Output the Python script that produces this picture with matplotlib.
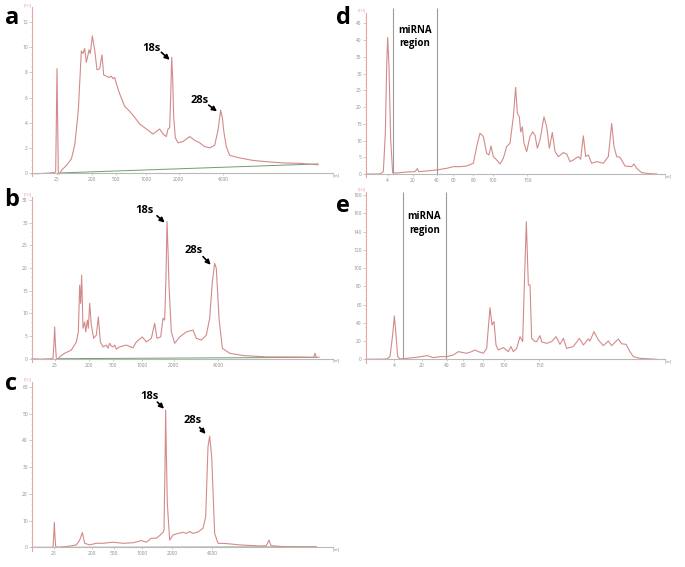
"""
Bioanalyzer electropherograms: total RNA (a-c) and small RNA (d-e) traces.
X positions are migration positions (arbitrary units read off the original
trace), Y values are fluorescence in [FU].
"""

import matplotlib
matplotlib.use("Agg")
import matplotlib.pyplot as plt
from matplotlib.ticker import MultipleLocator

plt.rcParams["font.family"] = ["Open Sans", "DejaVu Sans"]

TRACE = "#d48a8a"
YAXIS = "#e3a7a7"
XAXIS = "#b9b9b9"
BASE = "#6f9f6f"
TICKTXT = "#8c8c8c"

# ---------------- panel a ----------------
a_pos = [97, 120, 150, 165, 168, 170, 172, 174, 176, 178, 182, 185, 200, 215, 225,
         230, 236, 240, 245, 250, 255, 260, 265, 268, 272, 278, 285, 292, 300, 307,
         312, 320, 328, 335, 340, 345, 350, 360, 375, 390, 400, 420, 440, 460, 470,
         480, 490, 500, 505, 510, 513, 516, 519, 522, 527, 535, 550, 565, 570, 585,
         600, 615, 630, 645, 655, 663, 668, 673, 680, 690, 720, 760, 800, 850, 900, 955]
a_fu = [-0.05, -0.05, 0.0, 0.05, 0.1, 4.0, 8.3, 4.0, 0.0, -0.1, 0.0, 0.2, 0.6, 1.1, 2.2,
        3.4, 5.0, 7.1, 9.7, 9.5, 9.9, 8.8, 9.4, 9.8, 9.5, 10.9, 9.8, 8.2, 8.3, 9.4,
        7.8, 7.7, 7.6, 7.7, 7.5, 7.6, 7.1, 6.3, 5.3, 4.9, 4.6, 3.9, 3.5, 3.1, 3.3,
        3.5, 3.1, 2.9, 3.5, 3.6, 6.0, 9.2, 7.5, 4.5, 2.8, 2.4, 2.5, 2.8, 2.9, 2.6,
        2.4, 2.1, 2.0, 2.2, 3.4, 5.0, 4.4, 3.2, 2.1, 1.4, 1.2, 1.0, 0.9, 0.8, 0.77, 0.65]
a_base_pos = [176, 955]
a_base_fu = [0.0, 0.72]
a_ticks = [172, 278, 348, 438, 537, 670]

# ---------------- panel b ----------------
b_pos = [97, 120, 155, 160, 163, 165, 167, 170, 175, 180, 195, 215, 230, 236, 240,
         243, 246, 250, 255, 258, 263, 266, 270, 275, 282, 290, 296, 302, 310, 320,
         325, 330, 335, 340, 345, 350, 360, 380, 400, 410, 428, 440, 455, 465, 472,
         483, 490, 495, 499, 502, 505, 508, 515, 525, 540, 560, 580, 590, 605, 620,
         630, 638, 645, 650, 658, 668, 690, 730, 800, 900, 942, 946, 950, 958]
b_fu = [0.0, -0.1, 0.0, 0.1, 3.5, 7.0, 3.5, 0.0, -0.1, 0.4, 1.2, 1.9, 3.7, 5.9, 16.2,
        12.2, 18.4, 6.7, 8.1, 5.9, 8.5, 6.7, 12.2, 7.4, 4.5, 5.2, 9.2, 3.7, 2.6, 3.0,
        2.3, 3.4, 2.8, 2.6, 3.0, 2.1, 2.6, 3.0, 2.4, 3.7, 4.8, 3.7, 4.5, 7.8, 4.5,
        4.8, 8.9, 8.5, 18.0, 30.2, 24.0, 16.2, 5.9, 3.4, 4.8, 5.9, 6.3, 4.5, 4.1, 5.2,
        8.9, 16.9, 21.0, 19.9, 8.9, 2.3, 1.2, 0.7, 0.4, 0.37, 0.3, 1.2, 0.3, 0.35]
b_base_pos = [170, 950]
b_base_fu = [0.0, 0.3]
b_ticks = [165, 268, 340, 428, 522, 655]

# ---------------- panel c ----------------
c_pos = [97, 160, 162, 164, 166, 168, 175, 200, 230, 240, 248, 255, 270, 290, 310,
         340, 370, 400, 425, 440, 455, 470, 480, 490, 493, 496, 498, 500, 503, 510,
         520, 535, 550, 560, 570, 580, 595, 610, 618, 625, 630, 636, 645, 655, 680,
         720, 780, 800, 808, 814, 850, 950]
c_fu = [0.0, 0.0, 4.0, 9.3, 4.0, 0.25, 0.0, 0.25, 0.9, 2.7, 5.5, 1.5, 0.9, 1.5, 1.5,
        1.9, 1.5, 1.7, 2.5, 1.9, 3.4, 3.4, 4.4, 5.6, 6.5, 30.0, 51.3, 35.0, 16.4, 2.7,
        4.6, 5.2, 5.6, 5.2, 5.9, 5.2, 5.7, 7.1, 11.5, 37.6, 41.6, 33.9, 5.2, 1.5, 1.4,
        0.9, 0.5, 0.6, 2.7, 0.6, 0.25, 0.1]
c_base_pos = [168, 950]
c_base_fu = [0.0, 0.15]
c_ticks = [163, 278, 342, 428, 517, 638]

rrna_labels = ["25", "200", "500", "1000", "2000", "4000"]

# ---------------- panel d ----------------
d_pos = [78, 120, 130, 136, 140, 143, 147, 152, 158, 170, 200, 225, 232, 236, 260,
         290, 320, 340, 360, 380, 400, 410, 420, 430, 440, 447, 453, 460, 470, 480,
         490, 500, 510, 520, 527, 532, 538, 542, 547, 552, 560, 570, 578, 585, 592,
         600, 612, 620, 628, 637, 645, 655, 670, 680, 690, 700, 715, 722, 730, 737,
         745, 755, 770, 790, 805, 815, 822, 830, 840, 855, 875, 882, 890, 905, 930, 950]
d_fu = [0.0, 0.0, 0.7, 12.2, 32.1, 40.8, 32.1, 10.2, 0.4, 0.3, 0.6, 0.7, 1.6, 0.7, 0.9,
        1.2, 1.7, 2.2, 2.2, 2.4, 3.2, 8.2, 12.2, 11.2, 6.2, 5.7, 8.4, 5.2, 4.2, 3.0,
        4.7, 8.2, 9.2, 17.1, 25.9, 18.1, 17.1, 12.6, 14.1, 9.2, 6.7, 11.2, 12.6, 11.6, 7.7,
        10.2, 17.1, 14.1, 7.7, 12.4, 6.7, 5.2, 6.4, 6.0, 3.7, 4.2, 5.2, 4.4, 11.4, 5.2,
        5.7, 3.2, 3.7, 3.2, 5.2, 15.1, 8.2, 5.2, 5.0, 2.4, 2.2, 3.0, 1.7, 0.4, 0.1, 0.0]
d_base_pos = [130, 960]
d_base_fu = [0.0, 0.0]
d_ticks = [143, 218, 290, 340, 400, 458, 562]
d_region = [160, 290]

# ---------------- panel e ----------------
e_pos = [78, 140, 150, 158, 163, 168, 173, 180, 200, 230, 262, 280, 300, 320, 340,
         355, 370, 380, 395, 405, 415, 430, 440, 450, 456, 462, 468, 475, 490, 505,
         513, 520, 530, 540, 548, 553, 559, 565, 570, 575, 585, 590, 600, 605, 620,
         635, 648, 660, 670, 680, 700, 718, 730, 745, 750, 762, 775, 790, 805, 815,
         835, 845, 858, 870, 880, 900, 950]
e_fu = [0.0, 0.3, 2.9, 26.7, 47.5, 26.7, 2.9, 0.4, 1.1, 2.2, 4.0, 1.8, 2.9, 2.9, 4.7,
        8.4, 7.3, 6.6, 8.4, 10.2, 8.4, 6.6, 12.0, 56.6, 37.6, 41.3, 15.7, 10.2, 12.8, 8.4,
        13.9, 8.4, 12.0, 24.8, 19.4, 81.4, 150.8, 81.4, 81.4, 23.0, 19.4, 19.4, 25.9, 19.0, 17.5,
        19.4, 24.8, 16.4, 23.0, 12.0, 13.9, 23.0, 15.7, 22.3, 20.0, 30.3, 21.2, 15.0, 20.1, 15.0,
        22.3, 17.0, 16.4, 8.4, 2.9, 1.1, 0.0]
e_base_pos = [140, 960]
e_base_fu = [0.0, 0.0]
e_ticks = [163, 245, 320, 370, 428, 492, 598]
e_region = [188, 318]

srna_labels = ["4", "20", "40", "60", "80", "100", "150"]

W, H = 685, 567


def make_axes(fig, left, right, zero_px, top_px, ytop, xlim):
    """Place an axes so that value 0 sits at zero_px and ytop at top_px (pixels from top)."""
    ymin = -0.02 * ytop
    bottom_px = zero_px + 0.02 * (zero_px - top_px)
    ax = fig.add_axes([left / W, 1 - bottom_px / H, (right - left) / W,
                       (bottom_px - top_px) / H])
    ax.set_xlim(*xlim)
    ax.set_ylim(ymin, ytop)
    ax.set_facecolor("none")
    for s in ["top", "right"]:
        ax.spines[s].set_visible(False)
    ax.spines["bottom"].set_position(("data", 0))
    ax.spines["bottom"].set_color(XAXIS)
    ax.spines["bottom"].set_linewidth(0.8)
    ax.spines["left"].set_color(YAXIS)
    ax.spines["left"].set_linewidth(0.8)
    ax.tick_params(axis="y", which="major", length=2, width=0.5, color=YAXIS,
                   labelsize=3.5, labelcolor=TICKTXT, pad=1)
    ax.tick_params(axis="y", which="minor", length=1, width=0.4, color=YAXIS)
    ax.tick_params(axis="x", length=1.5, width=0.5, color=XAXIS,
                   labelsize=3.5, labelcolor=TICKTXT, pad=1.5)
    ax.text(0, 1.0, "[FU]", transform=ax.transAxes, fontsize=3.2, color=YAXIS,
            ha="right", va="bottom")
    ax.text(1.0, 0, "[nt]", transform=ax.get_yaxis_transform(), fontsize=3.2,
            color=TICKTXT, ha="left", va="top")
    return ax


def draw_trace(ax, pos, fu, base_pos, base_fu):
    ax.plot(base_pos, base_fu, color=BASE, lw=0.7)
    ax.plot(pos, fu, color=TRACE, lw=0.8, clip_on=False)


def label_peak(ax, text, txy, arrow_from, arrow_to):
    ax.text(txy[0], txy[1], text, fontsize=8, fontweight="bold", ha="center",
            va="center", color="black")
    ax.annotate("", xy=arrow_to, xytext=arrow_from,
                arrowprops=dict(arrowstyle="-|>", color="black", lw=1.2,
                                mutation_scale=7, shrinkA=0, shrinkB=0))


fig = plt.figure(figsize=(W / 100, H / 100), dpi=100)

# panel a
ax = make_axes(fig, 32, 333, 173, 7, 13.2, (97, 1000))
draw_trace(ax, a_pos, a_fu, a_base_pos, a_base_fu)
ax.yaxis.set_major_locator(MultipleLocator(2))
ax.yaxis.set_minor_locator(MultipleLocator(0.5))
ax.set_xticks(a_ticks, rrna_labels)
label_peak(ax, "18s", (455, 9.9), (485, 9.6), (510, 9.0))
label_peak(ax, "28s", (600, 5.8), (627, 5.4), (652, 4.9))

# panel b
ax = make_axes(fig, 32, 333, 358.7, 196.7, 35.7, (97, 1000))
draw_trace(ax, b_pos, b_fu, b_base_pos, b_base_fu)
ax.yaxis.set_major_locator(MultipleLocator(5))
ax.yaxis.set_minor_locator(MultipleLocator(1))
ax.set_xticks(b_ticks, rrna_labels)
label_peak(ax, "18s", (435, 32.6), (472, 31.5), (495, 30.0))
label_peak(ax, "28s", (583, 23.9), (610, 22.5), (633, 20.7))

# panel c
ax = make_axes(fig, 32, 333, 547.3, 381.7, 61.9, (97, 1000))
draw_trace(ax, c_pos, c_fu, c_base_pos, c_base_fu)
ax.yaxis.set_major_locator(MultipleLocator(10))
ax.yaxis.set_minor_locator(MultipleLocator(2))
ax.set_xticks(c_ticks, rrna_labels)
label_peak(ax, "18s", (448, 56.3), (473, 54.3), (493, 51.8))
label_peak(ax, "28s", (578, 47.3), (600, 44.8), (618, 42.4))

# panel d
ax = make_axes(fig, 366, 665, 174, 12.7, 48.2, (78, 975))
draw_trace(ax, d_pos, d_fu, d_base_pos, d_base_fu)
ax.yaxis.set_major_locator(MultipleLocator(5))
ax.yaxis.set_minor_locator(MultipleLocator(1))
ax.set_xticks(d_ticks, srna_labels)
ax.vlines(d_region, 0, 49.5, color="#9c9c9c", lw=0.8, clip_on=False)
ax.text(sum(d_region) / 2, 41.0, "miRNA\nregion", fontsize=7, fontweight="bold",
        ha="center", va="center", linespacing=1.3)

# panel e
ax = make_axes(fig, 366, 665, 359.3, 191.7, 183.6, (78, 975))
draw_trace(ax, e_pos, e_fu, e_base_pos, e_base_fu)
ax.yaxis.set_major_locator(MultipleLocator(20))
ax.yaxis.set_minor_locator(MultipleLocator(5))
ax.set_xticks(e_ticks, srna_labels)
ax.vlines(e_region, 0, 183.6, color="#9c9c9c", lw=0.8, clip_on=False)
ax.text(sum(e_region) / 2, 148.6, "miRNA\nregion", fontsize=7, fontweight="bold",
        ha="center", va="center", linespacing=1.3)

# panel letters
for letter, (px, py) in {"a": (12, 18), "b": (12, 200), "c": (11, 384),
                         "d": (343, 18), "e": (343, 206)}.items():
    fig.text(px / W, 1 - py / H, letter, fontsize=17, fontweight="bold",
             ha="center", va="center")

fig.savefig("out.png", dpi=100)
